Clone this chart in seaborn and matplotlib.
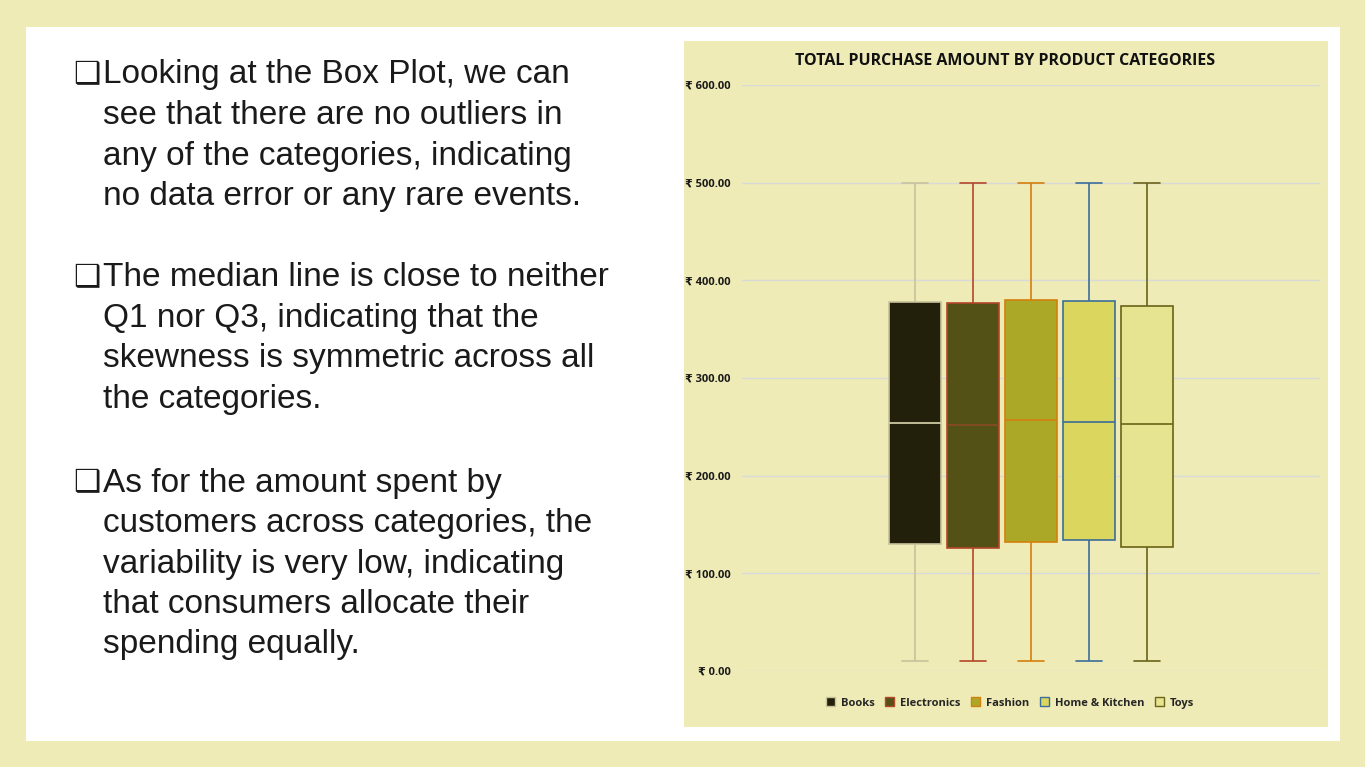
import matplotlib
matplotlib.use("Agg")
import matplotlib.pyplot as plt
import seaborn as sns
import pandas as pd
from matplotlib.patches import Rectangle

categories = ["Books", "Electronics", "Fashion", "Home & Kitchen", "Toys"]
mins = [10, 10, 10, 10, 10]
q1s = [130, 126, 132, 134, 127]
medians = [254, 252, 257, 255, 253]
q3s = [378, 377, 380, 379, 374]
maxs = [500, 500, 500, 500, 500]
yticks = [0, 100, 200, 300, 400, 500, 600]
fills = ["#22200b", "#545116", "#aba727", "#dbd65d", "#e6e391"]
edges = ["#c8c29a", "#b2472a", "#d4800d", "#3b6e9a", "#6b6318"]
medcols = ["#dcd8b0", "#8a4a20", "#d4800d", "#3b6e9a", "#6b6318"]

rows = []
for c, a, b, m, d, e in zip(categories, mins, q1s, medians, q3s, maxs):
    for v in (a, b, m, d, e):
        rows.append({"grp": "", "cat": c, "amount": v})
df = pd.DataFrame(rows)

sns.set_theme(style="white")
plt.rcParams["font.family"] = ["Liberation Sans", "DejaVu Sans"]
BG = "#eeebb6"
fig = plt.figure(figsize=(13.65, 7.67), dpi=100, facecolor=BG)
W, H = 1365, 767
def fr(x0, y0, x1, y1):
    return (x0 / W, 1 - y1 / H, (x1 - x0) / W, (y1 - y0) / H)

fig.patches.append(Rectangle((26 / W, 1 - 741 / H), (1340 - 26) / W, (741 - 27) / H,
                             transform=fig.transFigure, facecolor="white", edgecolor="none", zorder=-2))
fig.patches.append(Rectangle((684 / W, 1 - 727 / H), (1328 - 684) / W, (727 - 41) / H,
                             transform=fig.transFigure, facecolor=BG, edgecolor="none", zorder=-1))

paras = [
    ["Looking at the Box Plot, we can", "see that there are no outliers in",
     "any of the categories, indicating", "no data error or any rare events."],
    ["The median line is close to neither", "Q1 nor Q3, indicating that the",
     "skewness is symmetric across all", "the categories."],
    ["As for the amount spent by", "customers across categories, the",
     "variability is very low, indicating", "that consumers allocate their", "spending equally."],
]
starts = [75, 278, 483]
for p, y0 in zip(paras, starts):
    for i, line in enumerate(p):
        y = y0 + i * 40.5
        if i == 0:
            fig.text(73 / W, 1 - y / H, "\u2751", fontsize=22, color="#1a1a1a", va="center",
                     family=["DejaVu Sans"])
        fig.text(103 / W, 1 - y / H, line, fontsize=24, color="#1a1a1a", va="center")

ax = fig.add_axes(fr(742, 85, 1320, 671))
ax.set_facecolor(BG)
sns.boxplot(data=df, x="grp", y="amount", hue="cat", hue_order=categories, whis=(0, 100),
            width=0.5, gap=0.1, ax=ax, legend=False, linewidth=1.2)
for i, bx in enumerate(ax.patches):
    bx.set_facecolor(fills[i]); bx.set_edgecolor(edges[i])
for i in range(5):
    for k, ln in enumerate(ax.lines[i * 6:(i + 1) * 6]):
        ln.set_color(medcols[i] if k == 4 else edges[i])
ax.set_ylim(0, 600)
ax.set_yticks(yticks)
ax.set_yticklabels([f"\u20b9 {v:.2f}" for v in yticks], fontsize=8, fontweight="bold", color="#1a1a1a",
                   family=["Open Sans", "DejaVu Sans"])
ax.yaxis.grid(True, color="#d9d9d9", linewidth=1)
ax.set_axisbelow(True)
ax.set_xticks([])
ax.set_xlabel(""); ax.set_ylabel("")
for s in ax.spines.values():
    s.set_visible(False)
ax.tick_params(axis="y", length=0, pad=8)

fig.text(1005 / W, 1 - 61 / H, "TOTAL PURCHASE AMOUNT BY PRODUCT CATEGORIES", ha="center", va="center",
         fontsize=11.5, fontweight="bold", color="#111111", family=["Open Sans", "DejaVu Sans"])

handles = [Rectangle((0, 0), 1, 1, facecolor=f, edgecolor=e) for f, e in zip(fills, edges)]
fig.legend(handles, categories, loc="center", bbox_to_anchor=(1010 / W, 1 - 703 / H), ncol=5,
           frameon=False, handlelength=0.8, handleheight=0.8, columnspacing=1.0,
           handletextpad=0.5, prop={"weight": "bold", "size": 8, "family": "Open Sans"})

fig.savefig("out.png", dpi=100, facecolor=BG)
